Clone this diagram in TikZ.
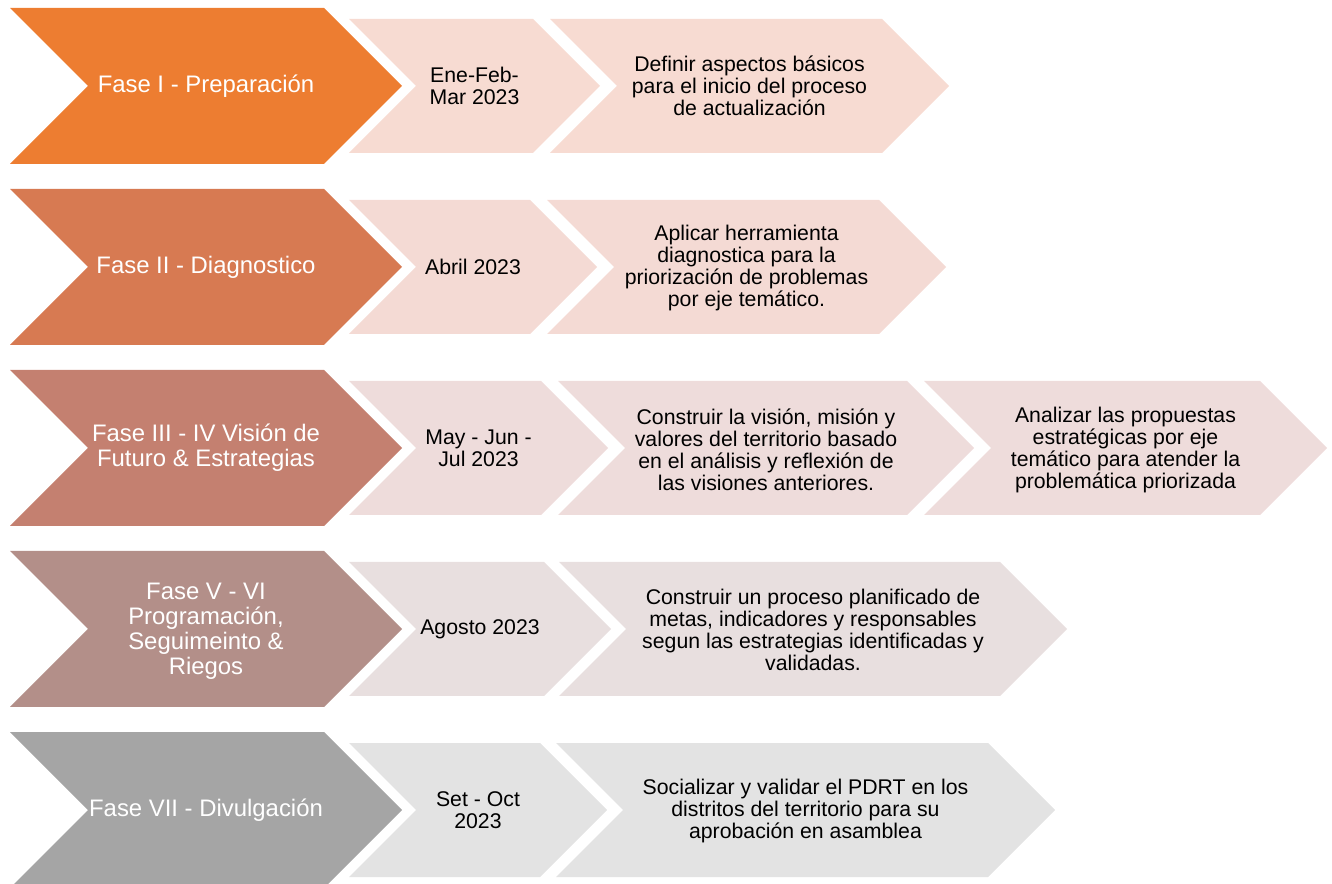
\documentclass[tikz,border=0pt]{standalone}
\usepackage{fontspec}
\setmainfont{Liberation Sans}

\definecolor{fuerte1}{HTML}{ED7D31}
\definecolor{fuerte2}{HTML}{D77A52}
\definecolor{fuerte3}{HTML}{C48070}
\definecolor{fuerte4}{HTML}{B38F89}
\definecolor{fuerte5}{HTML}{A5A5A5}
\definecolor{suave1}{HTML}{F7DBD2}
\definecolor{suave2}{HTML}{F4DAD4}
\definecolor{suave3}{HTML}{EEDCDB}
\definecolor{suave4}{HTML}{E8DFDF}
\definecolor{suave5}{HTML}{E3E3E3}

% left x, tip x, mid y, half height, colour
\newcommand{\fasechev}[5]{%
  \fill[#5] (#1,#3-#4) -- ({#2-#4},#3-#4) -- (#2,#3) -- ({#2-#4},#3+#4)
    -- (#1,#3+#4) -- ({#1+#4},#3) -- cycle;}

\begin{document}
\begin{tikzpicture}[x=0.02cm, y=-0.02cm,
    fase/.style={text=white, align=center, inner sep=0pt,
      font=\fontsize{13.6}{14.2}\selectfont},
    paso/.style={text=black, align=center, inner sep=0pt,
      font=\fontsize{12.1}{12.6}\selectfont}]
  \useasboundingbox (0,0) rectangle (1332,884);

  \fasechev{10}{402}{86}{78}{fuerte1}
  \fasechev{349}{600}{86}{67}{suave1}
  \fasechev{550}{949}{86}{67}{suave1}
  \node[fase] (fase1) at (206,86) {Fase I - Preparación};
  \node[paso] (fecha1) at (474.5,86) {Ene-Feb-\\Mar 2023};
  \node[paso] (tarea1) at (749.5,86) {Definir aspectos básicos\\para el inicio del proceso\\de actualización};

  \fasechev{10}{402}{267}{78}{fuerte2}
  \fasechev{349}{597}{267}{67}{suave2}
  \fasechev{547}{946}{267}{67}{suave2}
  \node[fase] (fase2) at (206,267) {Fase II - Diagnostico};
  \node[paso] (fecha2) at (473,267) {Abril 2023};
  \node[paso] (tarea2) at (746.5,268) {Aplicar herramienta\\diagnostica para la\\priorización de problemas\\por eje temático.};

  \fasechev{10}{402}{448}{78}{fuerte3}
  \fasechev{349}{608}{448}{67}{suave3}
  \fasechev{558}{974}{448}{67}{suave3}
  \fasechev{924}{1327}{448}{67}{suave3}
  \node[fase] (fase3) at (206,448) {Fase III - IV Visión de\\Futuro \& Estrategias};
  \node[paso] (fecha3) at (478.5,448) {May - Jun -\\Jul 2023};
  \node[paso] (tarea3) at (766,450) {Construir la visión, misión y\\valores del territorio basado\\en el análisis y reflexión de\\las visiones anteriores.};
  \node[paso] (tarea3b) at (1125.5,450) {Analizar las propuestas\\estratégicas por eje\\temático para atender la\\problemática priorizada};

  \fasechev{10}{402}{629}{78}{fuerte4}
  \fasechev{349}{611}{629}{67}{suave4}
  \fasechev{559}{1067}{629}{67}{suave4}
  \node[fase] (fase4) at (206,631) {Fase V - VI\\Programación,\\Seguimeinto \&\\Riegos};
  \node[paso] (fecha4) at (480,629) {Agosto 2023};
  \node[paso] (tarea4) at (813,630) {Construir un proceso planificado de\\metas, indicadores y responsables\\segun las estrategias identificadas y\\validadas.};

  \fasechev{10}{402}{810}{78}{fuerte5}
  \fasechev{349}{607}{810}{67}{suave5}
  \fasechev{556}{1055}{810}{67}{suave5}
  \node[fase] (fase5) at (206,810) {Fase VII - Divulgación};
  \node[paso] (fecha5) at (478,810) {Set - Oct\\2023};
  \node[paso] (tarea5) at (805.5,811) {Socializar y validar el PDRT en los\\distritos del territorio para su\\aprobación en asamblea};
\end{tikzpicture}
\end{document}
